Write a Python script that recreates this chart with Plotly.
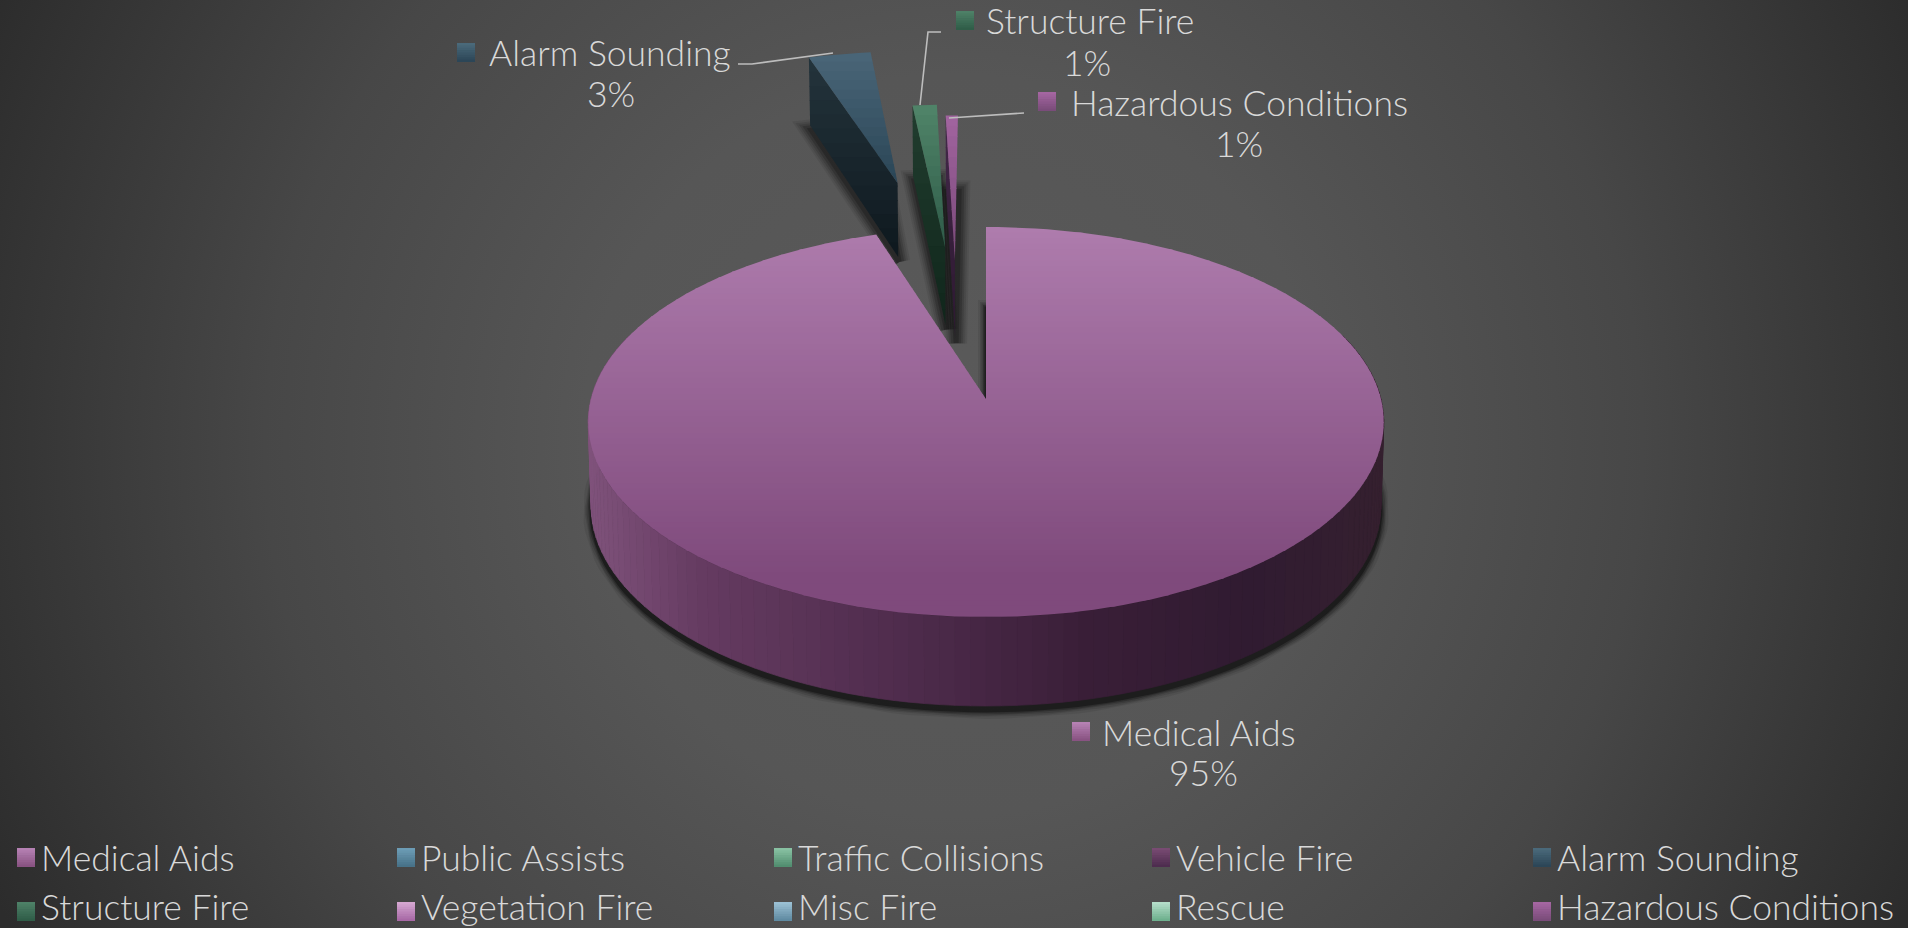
import base64
import math
import plotly.graph_objects as go

# ---------- data ----------
categories = ["Medical Aids", "Public Assists", "Traffic Collisions", "Vehicle Fire", "Alarm Sounding",
              "Structure Fire", "Vegetation Fire", "Misc Fire", "Rescue", "Hazardous Conditions"]
values = [95.0, 0, 0, 0, 3.2, 1.2, 0, 0, 0, 0.6]

# ---------- styles ----------
W, H = 1908, 928
FONT = "Lato Light, Lato, sans-serif"
TXT = "#d9d9d9"
FS = 35.5
swatch_colors = [("#b884b6", "#86507f"), ("#6f9fb8", "#456f85"), ("#8cc5a6", "#4e8a6c"), ("#7b4d75", "#4b2a4c"),
                 ("#4c6b7c", "#2a4455"), ("#4f8369", "#2e5a46"), ("#d7aad3", "#a565a3"), ("#9ec3d6", "#5c879f"),
                 ("#b8e0cc", "#69ad8a"), ("#a768a4", "#774a77")]
# per category: top-face gradient, cut-face gradient, explosion offset in disk units
slice_style = {
    "Medical Aids": dict(top=("#ae7cad", "#7f4a7c"), face=None, off=(0.0, 0.0)),
    "Alarm Sounding": dict(top=("#4a6678", "#2a4556"), face=("#24343c", "#0e181e"), off=(-0.258, 1.295)),
    "Structure Fire": dict(top=("#508569", "#2e5a48"), face=("#213d2f", "#10261b"), off=(-0.114, 0.867)),
    "Hazardous Conditions": dict(top=("#a2649f", "#784878"), face=("#44284a", "#2c1830"), off=(-0.086, 0.785)),
}
label_pos = {  # swatch left, swatch top, text left, text y, pct centre x, pct y
    "Medical Aids": (1072, 722, 1102, 732, 1203, 772),
    "Alarm Sounding": (457, 43, 489, 52, 611, 93),
    "Structure Fire": (956, 11, 986, 20, 1087, 62),
    "Hazardous Conditions": (1038, 92, 1071, 102, 1239, 143),
}
leaders = [([738, 752, 833], [64, 64, 53]), ([941, 928, 920], [32, 32, 105]), ([1024, 949], [113, 118])]
legend_x = [17, 397, 774, 1152, 1533]
legend_y = [857, 906.5]
swatch_y = [848, 902]
CX, CY, RX, RY, K = 986.0, 399.0, 395.0, 192.3, 0.1178


def hex2rgb(c):
    return tuple(int(c[i:i + 2], 16) for i in (1, 3, 5))


def mix(c0, c1, f):
    f = max(0, min(1, f))
    a, b = hex2rgb(c0), hex2rgb(c1)
    return "#%02x%02x%02x" % tuple(round(a[i] + (b[i] - a[i]) * f) for i in range(3))


def proj(u, v, low=False):
    w = 1 + K * v
    x = RX * u / w
    y = -RY * v / w
    if low:
        x *= 0.993
        y += 82.5 - 6.5 * v
    return (CX + x, CY + y)


def clip(poly, a, b):
    def half(pts, inside, cross):
        out = []
        for i, p in enumerate(pts):
            q = pts[(i + 1) % len(pts)]
            if inside(p):
                out.append(p)
            if inside(p) != inside(q):
                out.append(cross(p, q))
        return out

    def cr(val):
        return lambda p, q: (p[0] + (q[0] - p[0]) * (val - p[1]) / (q[1] - p[1]), val)

    r = half(poly, lambda p: p[1] >= a, cr(a))
    if r:
        r = half(r, lambda p: p[1] <= b, cr(b))
    return r


traces = []


def add_poly(pts, color, line=0.0):
    xs = [p[0] for p in pts] + [pts[0][0]]
    ys = [p[1] for p in pts] + [pts[0][1]]
    traces.append(go.Scatter(x=xs, y=ys, mode="lines", fill="toself", fillcolor=color,
                             line=dict(width=line, color=color), hoverinfo="skip", showlegend=False))


def grad_poly(pts, c0, c1, n, y0=None, y1=None):
    ys = [p[1] for p in pts]
    lo, hi = min(ys), max(ys)
    y0 = lo if y0 is None else y0
    y1 = hi if y1 is None else y1
    step = (hi - lo) / n
    for i in range(n):
        a = lo + i * step
        part = clip(pts, a, a + step + 0.8)
        if len(part) >= 3:
            add_poly(part, mix(c0, c1, (a + step / 2 - y0) / (y1 - y0)))


def shadow(pts, widths):
    xs = [p[0] for p in pts] + [pts[0][0]]
    ys = [p[1] for p in pts] + [pts[0][1]]
    for wd, op in widths:
        traces.append(go.Scatter(x=xs, y=ys, mode="lines", fill="toself", fillcolor="rgba(0,0,0,1)",
                                 line=dict(width=wd, color="#000000", shape="linear"), opacity=op,
                                 hoverinfo="skip", showlegend=False))


def sector(t0, t1, off, low=False):
    n = max(3, int((t1 - t0) / 2))
    pts = [proj(off[0], off[1], low)]
    for i in range(n + 1):
        t = math.radians(t0 + (t1 - t0) * i / n)
        pts.append(proj(off[0] + math.sin(t), off[1] + math.cos(t), low))
    return pts


# ---------- compute slices from the values ----------
total = sum(values)
spans = []
acc = 0.0
for name, val in zip(categories, values):
    if val > 0:
        spans.append((name, acc / total * 360, (acc + val) / total * 360, val))
    acc += val

# shadows below everything
for name, t0, t1, val in spans:
    st = slice_style[name]
    low = sector(t0, t1, st["off"], low=True)
    if name == "Medical Aids":
        moved = [(x, y + 5) for x, y in low]
        shadow(moved, [(16, 0.07), (12, 0.10), (9, 0.15), (6, 0.22), (3, 0.35)])
    else:
        moved = [(x + 1, y + 5) for x, y in low]
        shadow(moved, [(22, 0.07), (18, 0.09), (14, 0.12), (10, 0.16), (5, 0.2)])

side_stops = [(589, "#7f527b"), (700, "#653b61"), (900, "#4f2c4d"), (1090, "#391e37"), (1250, "#301b31"),
              (1385, "#35202f")]


def side_color(x):
    for (x0, c0), (x1, c1) in zip(side_stops, side_stops[1:]):
        if x <= x1:
            return mix(c0, c1, (x - x0) / (x1 - x0))
    return side_stops[-1][1]


for name, t0, t1, val in spans:
    st = slice_style[name]
    off = st["off"]
    if name == "Medical Aids":
        n = 110
        a0, a1 = 70.0, 290.0
        for i in range(n):
            ta = math.radians(a0 + (a1 - a0) * i / n)
            tb = math.radians(a0 + (a1 - a0) * (i + 1) / n)
            q = [proj(math.sin(ta), math.cos(ta)), proj(math.sin(tb), math.cos(tb)),
                 proj(math.sin(tb), math.cos(tb), True), proj(math.sin(ta), math.cos(ta), True)]
            add_poly(q, side_color((q[0][0] + q[1][0]) / 2), line=0.7)
        grad_poly(sector(t0, t1, off), st["top"][0], st["top"][1], 70, y1=575)
    else:
        ta = math.radians(t0)
        rim = (off[0] + math.sin(ta), off[1] + math.cos(ta))
        face = [proj(off[0], off[1]), proj(*rim), proj(*rim, True), proj(off[0], off[1], True)]
        grad_poly(face, st["face"][0], st["face"][1], 14)
        grad_poly(sector(t0, t1, off), st["top"][0], st["top"][1], 14)

# leader lines
for lx, ly in leaders:
    traces.append(go.Scatter(x=lx, y=ly, mode="lines", line=dict(width=1.6, color="#bdbdbd"),
                             hoverinfo="skip", showlegend=False))

annotations = []


def text(x, y, s, anchor="left"):
    annotations.append(dict(x=x, y=y, xref="x", yref="y", text=s, showarrow=False, xanchor=anchor, yanchor="middle",
                            font=dict(family=FONT, size=FS, color=TXT, weight=300), borderpad=0, borderwidth=0))


def swatch(x, y, colors):
    grad_poly([(x, y), (x + 18, y), (x + 18, y + 19), (x, y + 19)], colors[0], colors[1], 8)


# data labels
for name, t0, t1, val in spans:
    sx, sy, tx, ty, px, py = label_pos[name]
    swatch(sx, sy, swatch_colors[categories.index(name)])
    text(tx, ty, name)
    text(px, py, f"{val / total:.0%}", "center")

# legend
for i, name in enumerate(categories):
    col, row = i % 5, i // 5
    swatch(legend_x[col], swatch_y[row], swatch_colors[i])
    text(legend_x[col] + 24, legend_y[row], name)

svg = f"""<svg xmlns="http://www.w3.org/2000/svg" width="{W}" height="{H}" viewBox="0 0 {W} {H}">
<defs><radialGradient id="g" gradientUnits="userSpaceOnUse" cx="{W * 0.5}" cy="{H * 0.48}" r="1060">
<stop offset="0" stop-color="#5a5a5a"/><stop offset="0.35" stop-color="#565656"/>
<stop offset="0.65" stop-color="#474747"/><stop offset="1" stop-color="#2c2c2c"/></radialGradient></defs>
<rect width="{W}" height="{H}" fill="url(#g)"/></svg>"""
bg = "data:image/svg+xml;base64," + base64.b64encode(svg.encode()).decode()

fig = go.Figure(traces)
fig.update_layout(
    width=W, height=H, margin=dict(l=0, r=0, t=0, b=0), showlegend=False,
    paper_bgcolor="#4a4a4a", plot_bgcolor="rgba(0,0,0,0)",
    xaxis=dict(range=[0, W], visible=False, fixedrange=True),
    yaxis=dict(range=[H, 0], visible=False, fixedrange=True),
    annotations=annotations,
    images=[dict(source=bg, xref="x", yref="y", x=0, y=0, sizex=W, sizey=H, sizing="stretch",
                 xanchor="left", yanchor="top", layer="below")],
)
fig.write_html("out.html", config=dict(displayModeBar=False),
               post_script="document.body.style.margin='0';document.documentElement.style.overflow='hidden';")
